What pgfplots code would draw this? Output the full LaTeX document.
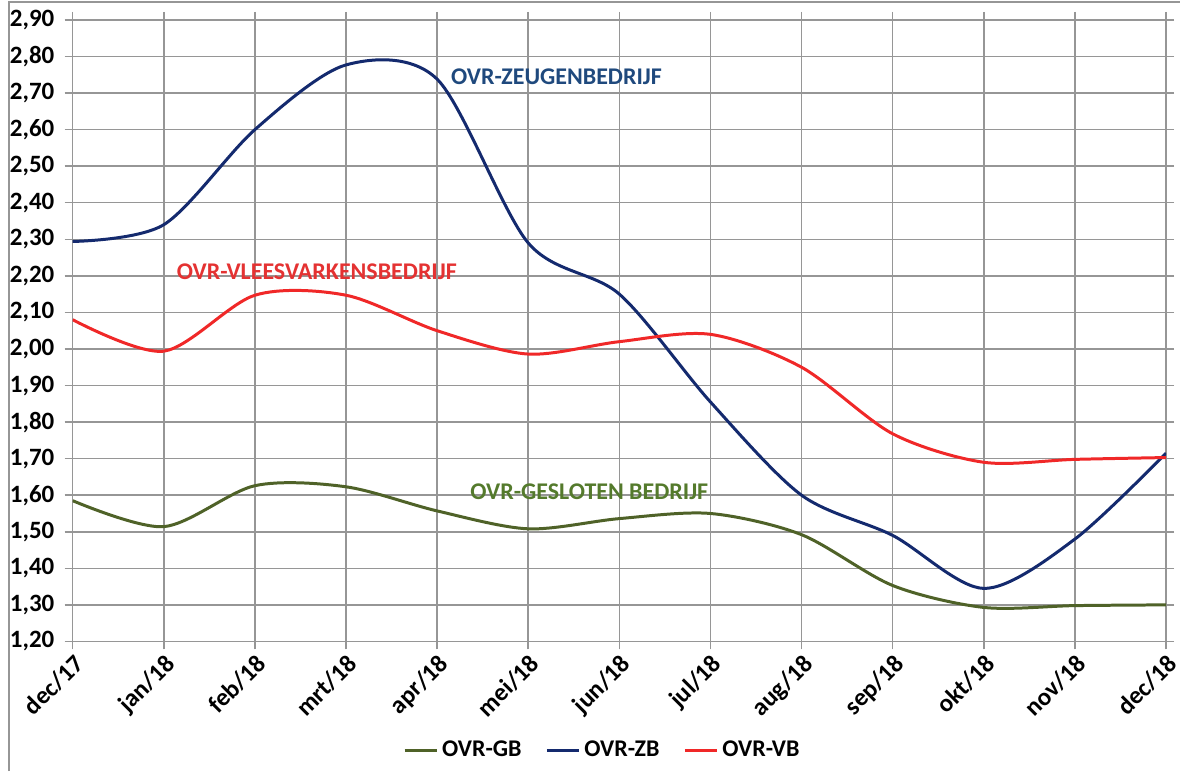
\documentclass[border=0pt]{standalone}
\usepackage{pgfplots}
\pgfplotsset{compat=1.18}
\usepackage{fontspec}
\setmainfont{Carlito}
\definecolor{gbline}{RGB}{79,98,40}
\definecolor{zbline}{RGB}{20,42,110}
\definecolor{vbline}{RGB}{240,40,40}
\definecolor{gbtext}{RGB}{84,122,44}
\definecolor{zbtext}{RGB}{31,73,125}
\definecolor{vbtext}{RGB}{228,50,50}
\definecolor{gridc}{RGB}{150,150,150}
\begin{document}
\begin{tikzpicture}
\begin{axis}[
  at={(0,0)}, anchor=south west,
  scale only axis,
  width=548pt, height=311.5pt,
  xmin=0, xmax=12, ymin=1.2, ymax=2.9,
  xtick={0,...,12},
  xticklabels={dec/17,jan/18,feb/18,mrt/18,apr/18,mei/18,jun/18,jul/18,aug/18,sep/18,okt/18,nov/18,dec/18},
  ytick={1.2,1.3,...,2.91},
  yticklabel style={inner sep=5pt, /pgf/number format/.cd, use comma, fixed, fixed zerofill, precision=2, assume math mode=true},
  ticklabel style={font=\fontsize{12.5}{14}\selectfont\bfseries},
  xticklabel style={rotate=45, anchor=north east, inner sep=1pt},
  tick align=outside,
  major tick length=4pt,
  tick style={gridc, line width=0.75pt},
  grid=major,
  grid style={gridc, line width=0.75pt},
  axis line style={gridc, line width=0.75pt},
  legend style={at={(266pt,-54.5pt)}, anchor=center, draw=none, font=\fontsize{12}{14}\selectfont\bfseries, legend columns=3, /tikz/every even column/.append style={column sep=10pt}},
  legend image code/.code={\draw[#1, line width=1.5pt] (0pt,0pt) -- (16pt,0pt);},
  every axis plot/.append style={line width=1.5pt, smooth, tension=0.5, no markers},
]
\addplot[gbline] coordinates {(0,1.585) (1,1.514) (2,1.626) (3,1.623) (4,1.557) (5,1.508) (6,1.536) (7,1.55) (8,1.492) (9,1.353) (10,1.293) (11,1.298) (12,1.30)};
\addlegendentry{OVR-GB}
\addplot[zbline] coordinates {(0,2.294) (1,2.34) (2,2.60) (3,2.777) (4,2.738) (5,2.29) (6,2.15) (7,1.855) (8,1.60) (9,1.49) (10,1.345) (11,1.48) (12,1.715)};
\addlegendentry{OVR-ZB}
\addplot[vbline] coordinates {(0,2.08) (1,1.994) (2,2.147) (3,2.147) (4,2.05) (5,1.986) (6,2.02) (7,2.04) (8,1.95) (9,1.768) (10,1.69) (11,1.698) (12,1.703)};
\addlegendentry{OVR-VB}
\node[font=\fontsize{12}{14}\selectfont\bfseries, text=zbtext] at (axis cs:5.31,2.744) {OVR-ZEUGENBEDRIJF};
\node[font=\fontsize{12}{14}\selectfont\bfseries, text=vbtext] at (axis cs:2.68,2.21) {OVR-VLEESVARKENSBEDRIJF};
\node[font=\fontsize{12}{14}\selectfont\bfseries, text=gbtext] at (axis cs:5.67,1.609) {OVR-GESLOTEN BEDRIJF};
\end{axis}
\draw[gridc, line width=0.75pt] (-32pt,-65pt) -- (-32pt,320.5pt) -- (555pt,320.5pt);
\path[use as bounding box] (-36pt,-65pt) rectangle (555pt,321.5pt);
\end{tikzpicture}
\end{document}
